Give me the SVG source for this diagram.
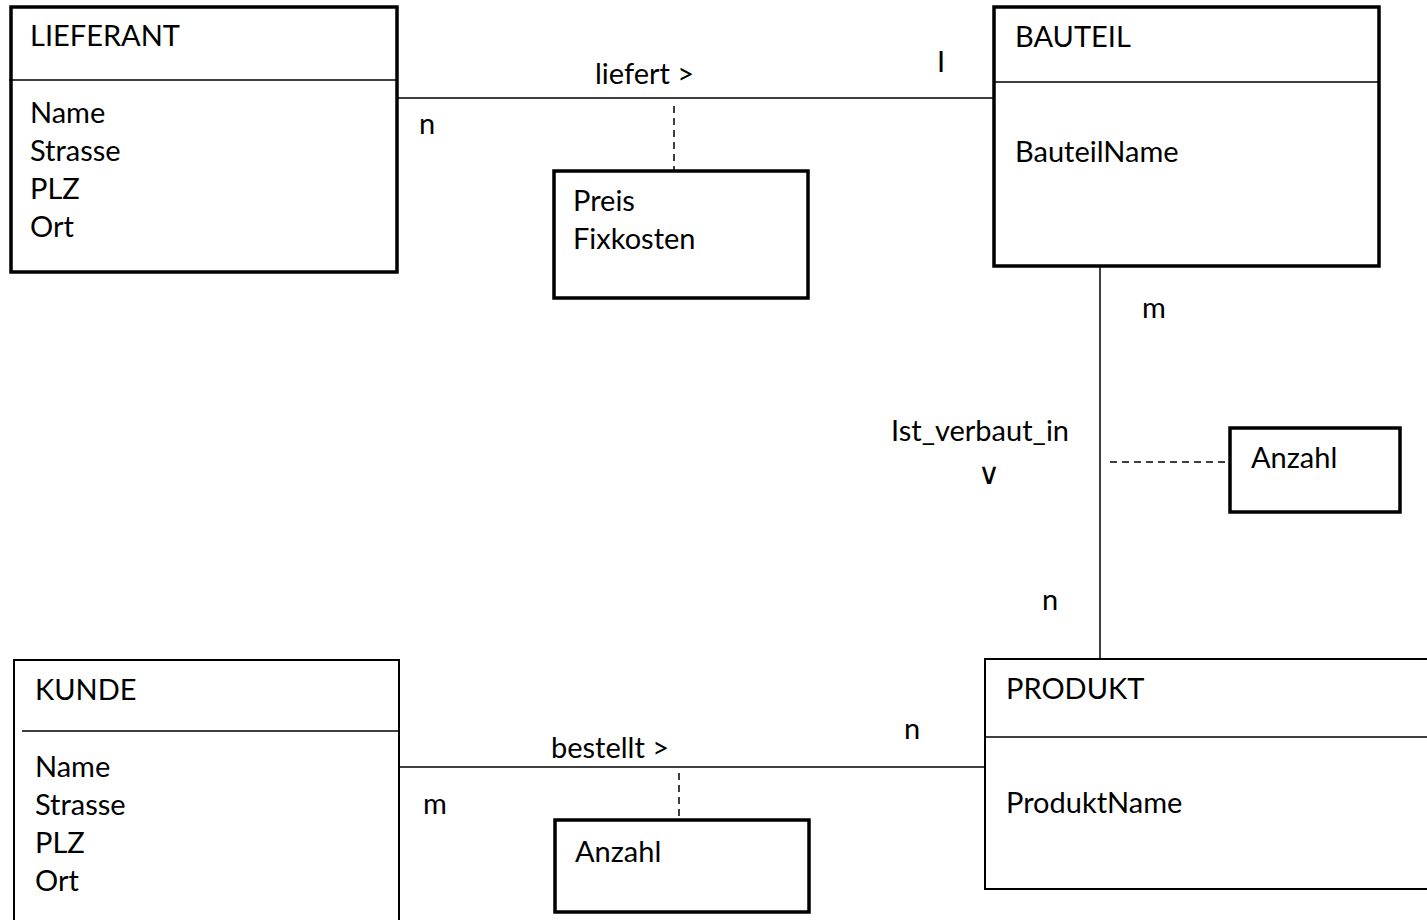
<svg xmlns="http://www.w3.org/2000/svg" width="1427" height="920" viewBox="0 0 1427 920">
<style>
text{font-family:Lato,"Liberation Sans",sans-serif;font-size:29px;fill:#000}
.thick{fill:#fff;stroke:#000;stroke-width:3.5}
.thin{fill:#fff;stroke:#000;stroke-width:2}
.div{stroke:#000;stroke-width:1.5}
.rel{stroke:#000;stroke-width:1.5;fill:none}
.dash{stroke:#000;stroke-width:1.5;fill:none;stroke-dasharray:7,5}
</style>
<rect width="1427" height="920" fill="#fff"/>
<g id="connectors">
<line class="rel" x1="397" y1="98" x2="994" y2="98"/>
<line class="dash" x1="674" y1="106" x2="674" y2="171"/>
<line class="rel" x1="1100" y1="266" x2="1100" y2="659"/>
<line class="dash" x1="1110" y1="462" x2="1230" y2="462"/>
<line class="rel" x1="399" y1="767" x2="985" y2="767"/>
<line class="dash" x1="679" y1="773" x2="679" y2="820"/>
<text x="595" y="84">liefert &gt;</text>
<text x="419" y="134">n</text>
<text x="937" y="72">I</text>
<text x="1142" y="318">m</text>
<text x="1042" y="610">n</text>
<text x="891" y="441">Ist_verbaut_in</text>
<text x="978" y="484" style="font-family:'DejaVu Sans',sans-serif;font-size:30px;font-weight:300">∨</text>
<text x="551" y="758">bestellt &gt;</text>
<text x="904" y="739">n</text>
<text x="423" y="814">m</text>
</g>
<g id="lieferant">
<rect class="thick" x="11" y="7" width="386" height="265"/>
<line class="div" x1="9" y1="80" x2="397" y2="80"/>
<text x="30" y="46">LIEFERANT</text>
<text x="30" y="123">Name</text>
<text x="30" y="161">Strasse</text>
<text x="30" y="199">PLZ</text>
<text x="30" y="237">Ort</text>
</g>
<g id="preis">
<rect class="thick" x="554" y="171" width="254" height="127"/>
<text x="573" y="211">Preis</text>
<text x="573" y="249">Fixkosten</text>
</g>
<g id="bauteil">
<rect class="thick" x="994" y="7" width="385" height="259"/>
<line class="div" x1="993" y1="82" x2="1379" y2="82"/>
<text x="1015" y="47">BAUTEIL</text>
<text x="1015" y="162">BauteilName</text>
</g>
<g id="anzahl1">
<rect class="thick" x="1230" y="428" width="170" height="84"/>
<text x="1251" y="468">Anzahl</text>
</g>
<g id="kunde">
<rect class="thin" x="14" y="660" width="385" height="280"/>
<line class="div" x1="22" y1="731" x2="400" y2="731"/>
<text x="35" y="700">KUNDE</text>
<text x="35" y="777">Name</text>
<text x="35" y="815">Strasse</text>
<text x="35" y="853">PLZ</text>
<text x="35" y="891">Ort</text>
</g>
<g id="anzahl2">
<rect class="thick" x="555" y="820" width="254" height="92"/>
<text x="575" y="862">Anzahl</text>
</g>
<g id="produkt">
<rect class="thin" x="985" y="659" width="460" height="230"/>
<line class="div" x1="985" y1="737" x2="1427" y2="737"/>
<text x="1006" y="699">PRODUKT</text>
<text x="1006" y="813">ProduktName</text>
</g>
</svg>
